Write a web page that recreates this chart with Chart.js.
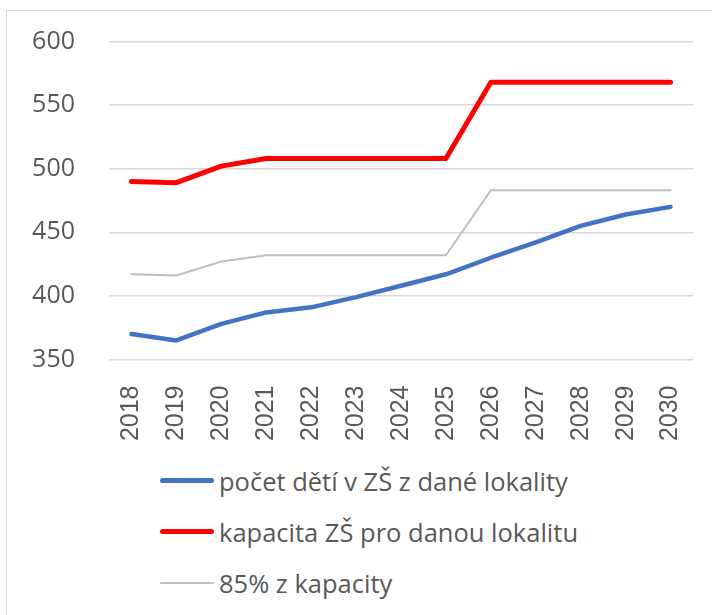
<!DOCTYPE html>
<html>
<head>
<meta charset="utf-8">
<script src="https://cdn.jsdelivr.net/npm/chart.js@4/dist/chart.umd.min.js"></script>
<style>
  body { margin: 0; background: #fff; }
  #frame {
    position: absolute; left: 6px; top: 10px; width: 720px; height: 620px;
    border: 1px solid #d9d9d9; box-sizing: border-box;
  }
  #wrap { position: absolute; left: 0; top: 0; width: 712px; height: 450px; }
  #legend { position: absolute; left: 160px; top: 455px; margin: 0; padding: 0; list-style: none;
    font-family: "Open Sans", sans-serif; font-size: 25.5px; color: #595959; }
  #legend li { height: 51px; display: flex; align-items: center; }
  #legend span.swatch { display: inline-block; width: 54px; margin-right: 5px; border-radius: 3px; }
</style>
</head>
<body>
<div id="frame"></div>
<div id="wrap"><canvas id="graphContainer"></canvas></div>
<ul id="legend"></ul>
<script>
const years = ["2018", "2019", "2020", "2021", "2022", "2023", "2024", "2025", "2026", "2027", "2028", "2029", "2030"];
const children = [370, 365, 378, 387, 391, 399, 408, 417, 430, 442, 455, 464, 470];
const capacity = [490, 489, 502, 508, 508, 508, 508, 508, 568, 568, 568, 568, 568];
const capacity85 = [417, 416, 427, 432, 432, 432, 432, 432, 483, 483, 483, 483, 483];
const yTicks = [350, 400, 450, 500, 550, 600];

document.addEventListener("DOMContentLoaded", function () {
  const ctx = document.getElementById("graphContainer").getContext("2d");

  const chart = new Chart(ctx, {
    type: "line",
    data: {
      labels: years,
      datasets: [
        { label: "počet dětí v ZŠ z dané lokality", data: children, borderColor: "#4472C4", borderWidth: 4.5 },
        { label: "kapacita ZŠ pro danou lokalitu", data: capacity, borderColor: "#FF0000", borderWidth: 5 },
        { label: "85% z kapacity", data: capacity85, borderColor: "#BFBFBF", borderWidth: 2 }
      ]
    },
    options: {
      responsive: true,
      maintainAspectRatio: false,
      animation: false,
      layout: { padding: { top: 41.5, right: 19, left: 0, bottom: 0 } },
      elements: {
        point: { radius: 0 },
        line: { tension: 0, borderCapStyle: "round", borderJoinStyle: "round", fill: false }
      },
      plugins: { legend: { display: false }, tooltip: { enabled: false } },
      scales: {
        x: {
          offset: true,
          grid: { display: false },
          border: { display: false },
          ticks: {
            minRotation: 90, maxRotation: 90, padding: 18,
            color: "#595959",
            font: { family: "Liberation Sans, Arial, sans-serif", size: 25 }
          },
          afterFit: function (scale) {
            scale.height = 90.5;
            scale.paddingLeft = 0;
            scale.paddingRight = 0;
          }
        },
        y: {
          min: 350,
          max: 600,
          afterBuildTicks: function (scale) { scale.ticks = yTicks.map(v => ({ value: v })); },
          grid: { color: "#d9d9d9", lineWidth: 1.5, drawTicks: false },
          border: { display: false },
          ticks: {
            padding: 34,
            color: "#595959",
            font: { family: "Open Sans, sans-serif", size: 25 }
          },
          afterFit: function (scale) {
            scale.width = 109;
            scale.paddingTop = 0;
            scale.paddingBottom = 0;
          }
        }
      }
    }
  });

  const legend = document.getElementById("legend");
  chart.data.datasets.forEach(function (ds) {
    const li = document.createElement("li");
    const sw = document.createElement("span");
    sw.className = "swatch";
    sw.style.height = ds.borderWidth + "px";
    sw.style.background = ds.borderColor;
    li.appendChild(sw);
    li.appendChild(document.createTextNode(ds.label));
    legend.appendChild(li);
  });
});
</script>
</body>
</html>
